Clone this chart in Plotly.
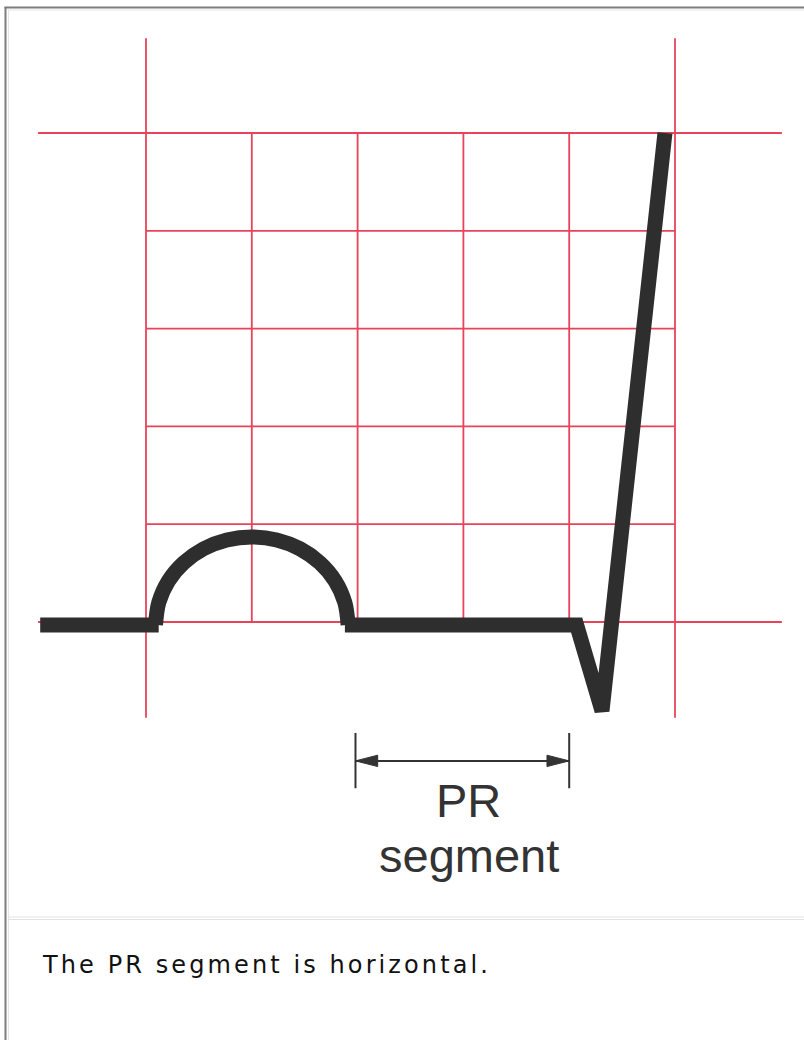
import plotly.graph_objects as go

W, H = 804, 1040

# ---------------- data (units = one large ECG box) ----------------
grid_cols = [0, 1, 2, 3, 4, 5]          # vertical red lines
grid_rows = [0, 1, 2, 3, 4, 5]          # horizontal red lines
outer_cols = [0, 5]                      # long vertical lines
outer_rows = [0, 5]                      # long horizontal lines
outer_col_span = [-0.98, 5.97]
outer_row_span = [-1.02, 6.01]

# ECG trace pieces
baseline_x = [-1.0, 0.12]
baseline_y = [-0.03, -0.03]
# P wave (rounded hump)
p_x = [0.09, 0.121, 0.212, 0.357, 0.545, 0.764, 1.0, 1.236, 1.455, 1.643, 1.788, 1.879, 1.91]
p_y = [-0.03, 0.20, 0.42, 0.606, 0.749, 0.839, 0.87, 0.839, 0.749, 0.606, 0.42, 0.20, -0.03]
# PR segment, Q dip, R upstroke
qrs_x = [1.88, 4.07, 4.31, 4.905]
qrs_y = [-0.03, -0.03, -0.91, 5.0]

# PR segment measurement
pr_start, pr_end = 1.98, 4.0
pr_level = -1.42
pr_tick = [-1.135, -1.70]
label_lines = ["PR", "segment"]
label_x = 3.05
label_y = [-1.82, -2.39]
caption = "The PR segment is horizontal."

# ---------------- pixel mapping of the drawing ----------------
X0, DX = 146.0, 105.8
Y0, DY = 622.0, 97.8
x_range = [-X0 / DX, (W - X0) / DX]
y_range = [(Y0 - H) / DY, Y0 / DY]

RED = "#e8435a"
INK = "#2e2e2e"

fig = go.Figure()

# grid: vertical lines
gx, gy = [], []
for c in grid_cols:
    span = outer_col_span if c in outer_cols else [grid_rows[0], grid_rows[-1]]
    gx += [c, c, None]
    gy += [span[0], span[1], None]
# grid: horizontal lines
for r in grid_rows:
    span = outer_row_span if r in outer_rows else [grid_cols[0], grid_cols[-1]]
    gx += [span[0], span[1], None]
    gy += [r, r, None]
fig.add_trace(go.Scatter(x=gx, y=gy, mode="lines",
                         line=dict(color=RED, width=1.8),
                         hoverinfo="skip", showlegend=False))

# ECG waveform
fig.add_trace(go.Scatter(x=baseline_x, y=baseline_y, mode="lines",
                         line=dict(color=INK, width=15),
                         hoverinfo="skip", showlegend=False))
fig.add_trace(go.Scatter(x=p_x, y=p_y, mode="lines",
                         line=dict(color=INK, width=15, shape="spline", smoothing=1.0),
                         hoverinfo="skip", showlegend=False))
fig.add_trace(go.Scatter(x=qrs_x, y=qrs_y, mode="lines",
                         line=dict(color=INK, width=15),
                         hoverinfo="skip", showlegend=False))

# PR measurement line + end ticks
fig.add_trace(go.Scatter(
    x=[pr_start, pr_end, None, pr_start, pr_start, None, pr_end, pr_end],
    y=[pr_level, pr_level, None, pr_tick[0], pr_tick[1], None, pr_tick[0], pr_tick[1]],
    mode="lines", line=dict(color="#333333", width=2),
    hoverinfo="skip", showlegend=False))

# arrow heads (filled triangles)
head_len, head_half = 0.21, 0.058
shapes = []
for tip, direction in [(pr_start, 1), (pr_end, -1)]:
    base = tip + direction * head_len
    shapes.append(dict(
        type="path", xref="x", yref="y",
        path=f"M{tip},{pr_level} L{base},{pr_level + head_half} L{base},{pr_level - head_half} Z",
        fillcolor="#333333", line=dict(color="#333333", width=1)))


def px(x):
    return x / W


def py(y):
    return 1 - y / H


# page frame decorations
frame = [
    (5.5, 7, 5.5, H, "#7d7d7d", 2),
    (8.5, 10, 8.5, H, "#e4e4e4", 1),
    (4.5, 7.5, W, 7.5, "#7d7d7d", 2),
    (7.5, 10, W, 10, "#e4e4e4", 1),
    (9, 917, W, 917, "#e2e2e2", 1),
    (9, 919.5, W, 919.5, "#e2e2e2", 1),
]
for x0, y0, x1, y1, col, w in frame:
    shapes.append(dict(type="line", xref="paper", yref="paper",
                       x0=px(x0), y0=py(y0), x1=px(x1), y1=py(y1),
                       line=dict(color=col, width=w)))

annotations = []
for txt, yy in zip(label_lines, label_y):
    annotations.append(dict(x=label_x, y=yy, xref="x", yref="y", text=txt,
                            showarrow=False, xanchor="center", yanchor="middle",
                            font=dict(family="Liberation Sans, Arial, sans-serif",
                                      size=47, color="#333333")))
annotations.append(dict(x=px(40), y=py(965), xref="paper", yref="paper",
                        text=f'<span style="letter-spacing:3.1px">{caption}</span>',
                        showarrow=False, xanchor="left", yanchor="middle",
                        font=dict(family="DejaVu Sans, Verdana, sans-serif",
                                  size=24, color="#111111")))

fig.update_layout(
    width=W, height=H,
    margin=dict(l=0, r=0, t=0, b=0),
    paper_bgcolor="white", plot_bgcolor="white",
    xaxis=dict(range=x_range, visible=False, fixedrange=True),
    yaxis=dict(range=y_range, visible=False, fixedrange=True),
    shapes=shapes, annotations=annotations,
    showlegend=False,
)

fig.write_html("out.html", config={"displayModeBar": False},
               post_script="document.body.style.margin='0';")
